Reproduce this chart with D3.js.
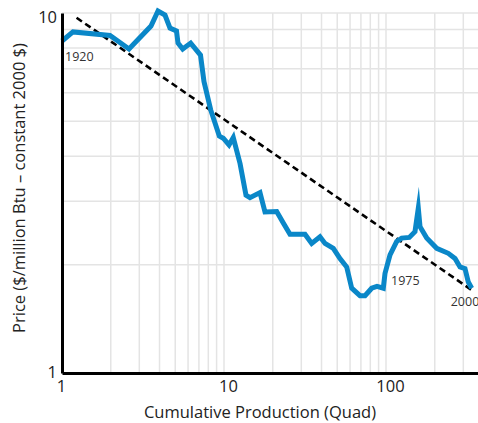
<!DOCTYPE html>
<html>
<head>
<meta charset="utf-8">
<script src="https://cdn.jsdelivr.net/npm/d3@7"></script>
<style>
  html, body { margin: 0; padding: 0; background: #fff; }
  svg { display: block; font-family: "Open Sans", "Noto Sans", sans-serif; }
</style>
</head>
<body>
<svg id="chart" width="478" height="423"></svg>
<script>
// Cumulative production (quad) and real price ($/million Btu, constant 2000 $)
const production = [
  1.00, 1.169, 1.978, 2.592, 3.543, 3.913, 4.322, 4.642, 5.090, 5.200,
  5.561, 6.229, 7.160, 7.524, 8.278, 9.355, 9.90, 10.74, 11.41, 12.56,
  13.67, 14.47, 16.68, 17.91, 21.15, 23.23, 25.55, 31.62, 34.78, 39.13,
  42.02, 47.29, 52.00, 57.20, 61.42, 69.10, 74.20, 81.58, 87.99, 96.23,
  98.58, 105.9, 116.4, 125.0, 139.3, 151.0, 158.3, 162.2, 178.3, 205.6,
  242.4, 266.7, 286.3, 307.4, 322.1, 338.1
];
const price = [
  8.36, 8.86, 8.66, 7.94, 9.20, 10.13, 9.87, 9.08, 8.91, 8.25,
  7.94, 8.25, 7.64, 6.45, 5.38, 4.55, 4.49, 4.30, 4.51, 3.82,
  3.12, 3.07, 3.17, 2.80, 2.81, 2.61, 2.43, 2.43, 2.29, 2.39,
  2.29, 2.22, 2.08, 1.97, 1.72, 1.64, 1.64, 1.72, 1.74, 1.72,
  1.89, 2.13, 2.32, 2.37, 2.38, 2.47, 2.87, 2.55, 2.37, 2.22,
  2.15, 2.08, 1.97, 1.95, 1.79, 1.72
];

// Fitted experience-curve trend (endpoints of the straight log-log line)
const trendProduction = [1.23, 338];
const trendPrice = [9.70, 1.70];

// Year annotations: label text and index of the point it marks
const yearLabels = ["1920", "1975", "2000"];
const yearIndex = [0, 40, 55];

// Axis ticks and grid lines
const xTicks = [1, 10, 100];
const yTicks = [1, 10];
const xGrid = [2, 3, 4, 5, 6, 7, 8, 9, 10, 20, 30, 40, 50, 60, 70, 80, 90, 100, 200, 300];
const yGrid = [2, 3, 4, 5, 6, 7, 8, 9, 10];

const svg = d3.select("#chart");
const plotLeft = 62, plotRight = 478, plotTop = 13, plotBottom = 373;

const x = d3.scaleLog().domain([1, Math.pow(10, (plotRight - plotLeft) / 162)]).range([plotLeft, plotRight]);
const y = d3.scaleLog().domain([1, 10]).range([plotBottom, plotTop]);

// grid
const grid = svg.append("g").attr("stroke", "#e4e4e4").attr("stroke-width", 1.5);
grid.selectAll("line.v").data(xGrid).join("line")
  .attr("class", "v")
  .attr("x1", d => x(d)).attr("x2", d => x(d))
  .attr("y1", plotTop).attr("y2", plotBottom);
grid.selectAll("line.h").data(yGrid).join("line")
  .attr("class", "h")
  .attr("x1", plotLeft).attr("x2", plotRight)
  .attr("y1", d => y(d)).attr("y2", d => y(d));

// trend line
svg.append("line")
  .attr("x1", x(trendProduction[0])).attr("y1", y(trendPrice[0]))
  .attr("x2", x(trendProduction[1])).attr("y2", y(trendPrice[1]))
  .attr("stroke", "#000").attr("stroke-width", 2.6)
  .attr("stroke-dasharray", "6.5,4");

// price series
const pts = production.map((p, i) => [p, price[i]]);
svg.append("path")
  .datum(pts)
  .attr("fill", "none")
  .attr("stroke", "#0a87c8")
  .attr("stroke-width", 5)
  .attr("stroke-linejoin", "miter")
  .attr("stroke-miterlimit", 10)
  .attr("d", d3.line().x(d => x(d[0])).y(d => y(d[1])));

// axes
const xAxis = svg.append("g")
  .attr("transform", `translate(0,${plotBottom})`)
  .call(d3.axisBottom(x).tickValues(xTicks).tickFormat(d3.format("d")).tickSize(0).tickPadding(7));
const yAxis = svg.append("g")
  .attr("transform", `translate(${plotLeft},0)`)
  .call(d3.axisLeft(y).tickValues(yTicks).tickFormat(d3.format("d")).tickSize(0).tickPadding(5));
[xAxis, yAxis].forEach(a => {
  a.select(".domain").attr("stroke", "#000").attr("stroke-width", 3);
  a.selectAll("text").attr("font-family", "'Open Sans', 'Noto Sans', sans-serif")
    .attr("font-size", 16.5).attr("fill", "#222");
});
xAxis.selectAll("text").attr("dx", (d) => d === 1 ? -1 : 4);
yAxis.selectAll("text").attr("dy", d => d === 10 ? "0.55em" : "0.3em");

// year annotations
const labelOffset = { "1920": [3, 20], "1975": [6, 12], "2000": [-21, 18] };
svg.selectAll("text.year").data(yearLabels).join("text")
  .attr("class", "year")
  .attr("x", (d, i) => x(production[yearIndex[i]]) + labelOffset[d][0])
  .attr("y", (d, i) => y(price[yearIndex[i]]) + labelOffset[d][1])
  .attr("font-size", 12.5)
  .attr("fill", "#333")
  .text(d => d);

// axis titles
svg.append("text")
  .attr("x", 260).attr("y", 418)
  .attr("text-anchor", "middle")
  .attr("font-size", 16.5).attr("fill", "#222")
  .text("Cumulative Production (Quad)");
svg.append("text")
  .attr("transform", "translate(25,188) rotate(-90)")
  .attr("text-anchor", "middle")
  .attr("font-size", 16.5).attr("fill", "#222")
  .text("Price ($/million Btu – constant 2000 $)");
</script>
</body>
</html>
